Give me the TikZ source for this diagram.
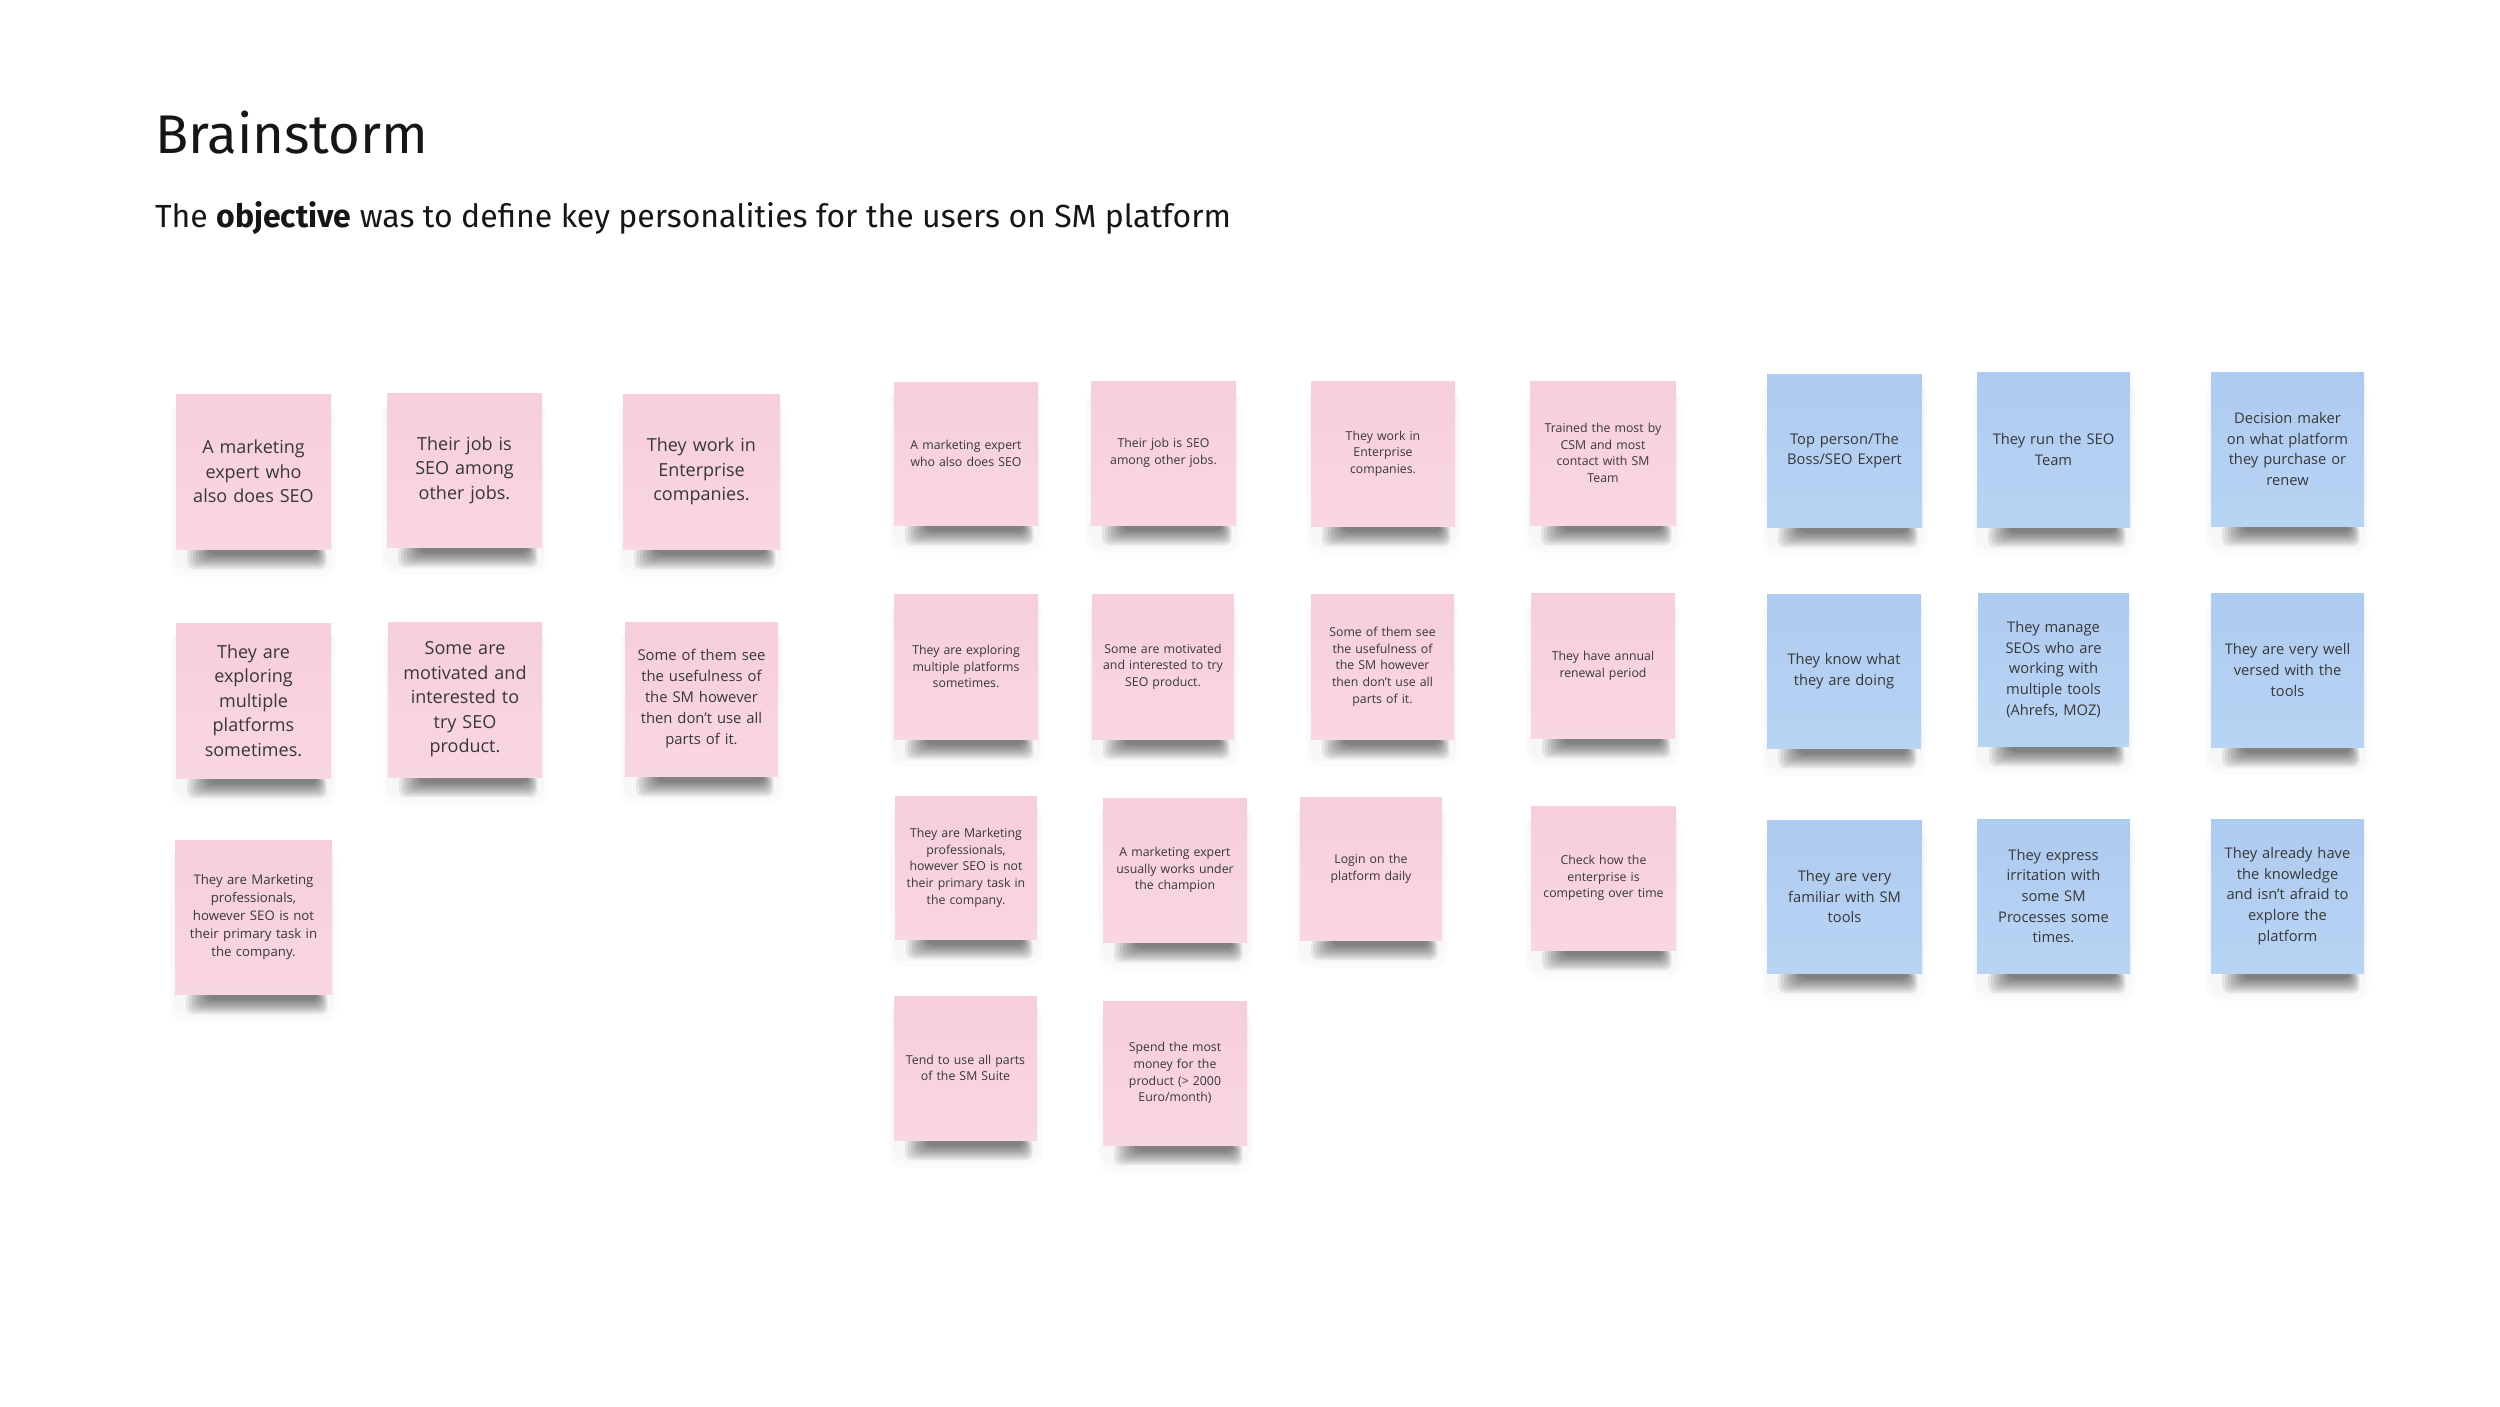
\documentclass[tikz,border=0pt]{standalone}
\usepackage{fontspec}
\setmainfont{Open Sans}
\newfontfamily\headfont{Fira Sans}
\definecolor{pinkA}{RGB}{246,206,221}
\definecolor{pinkB}{RGB}{249,214,227}
\definecolor{blueA}{RGB}{174,203,240}
\definecolor{blueB}{RGB}{184,212,244}
\definecolor{notetext}{RGB}{55,55,55}
\definecolor{titlecol}{RGB}{22,22,22}
\tikzset{
  notebase/.style={align=center, inner ysep=0pt, inner xsep=5pt, text=notetext},
  pinknote/.style={notebase, top color=pinkA, bottom color=pinkB},
  bluenote/.style={notebase, top color=blueA, bottom color=blueB},
  bigtext/.style={font=\fontsize{18}{24.5}\selectfont},
  midtext/.style={font=\fontsize{14.8}{21}\selectfont},
  smalltext/.style={font=\fontsize{13.2}{18}\selectfont},
  tinytext/.style={font=\fontsize{12.3}{16.7}\selectfont},
  bluetext/.style={font=\fontsize{14.7}{20.6}\selectfont},
  shadowlayer/.style={fill=black, opacity=0.075, rounded corners=7pt},
  halolayer/.style={fill=black, opacity=0.014, rounded corners=14pt}
}
\newcommand\stickynote[7]{%
  \fill[halolayer] ({#2-5},{#3+6}) rectangle ({#4+5},{#5+26});
  \fill[halolayer] ({#2-2},{#3+3}) rectangle ({#4+2},{#5+20});
  \foreach \k in {1,...,8}{%
    \fill[shadowlayer] ({#2+8+3*\k},{#5-4}) rectangle ({#4-3-1.4*\k},{#5+20-2*\k});
  }%
  \pgfmathsetmacro\nw{#4-#2}\pgfmathsetmacro\nh{#5-#3}\pgfmathsetmacro\tw{#4-#2-10}%
  \node[#6, minimum width=\nw pt, minimum height=\nh pt, text width=\tw pt] (#1) at ({(#2+#4)/2},{(#3+#5)/2-2}) {#7};
}
\begin{document}
\begin{tikzpicture}[x=1pt,y=-1pt]
\useasboundingbox[fill=white] (0,0) rectangle (2500,1406);
\node[anchor=base west, inner sep=0pt, text=titlecol, font=\headfont\fontsize{54.5}{60}\selectfont] (title) at (155,153) {Brainstorm};
\node[anchor=base west, inner sep=0pt, text=titlecol, font=\headfont\fontsize{32}{36}\selectfont] (subtitle) at (155,227) {The \textbf{objective} was to define key personalities for the users on SM platform};
% group A
\stickynote{a1}{176}{396}{331}{551}{pinknote,bigtext}{A marketing\\expert who\\also does SEO}
\stickynote{a2}{387}{395}{542}{549}{pinknote,bigtext}{Their job is\\SEO among\\other jobs.}
\stickynote{a3}{623}{396}{780}{551}{pinknote,bigtext}{They work in\\Enterprise\\companies.}
\stickynote{a4}{176}{625}{331}{780}{pinknote,bigtext}{They are\\exploring\\multiple\\platforms\\sometimes.}
\stickynote{a5}{388}{624}{542}{779}{pinknote,bigtext}{Some are\\motivated and\\interested to\\try SEO\\product.}
\stickynote{a6}{625}{624}{778}{778}{pinknote,midtext}{Some of them see\\the usefulness of\\the SM however\\then don't use all\\parts of it.}
\stickynote{a7}{175}{842}{332}{996}{pinknote,smalltext}{They are Marketing\\professionals,\\however SEO is not\\their primary task in\\the company.}
% group B
\stickynote{b1}{894}{384}{1038}{527}{pinknote,tinytext}{A marketing expert\\who also does SEO}
\stickynote{b2}{1091}{383}{1236}{527}{pinknote,tinytext}{Their job is SEO\\among other jobs.}
\stickynote{b3}{1311}{383}{1455}{528}{pinknote,tinytext}{They work in\\Enterprise\\companies.}
\stickynote{b4}{1530}{383}{1676}{527}{pinknote,tinytext}{Trained the most by\\CSM and most\\contact with SM\\Team}
\stickynote{b5}{894}{596}{1038}{741}{pinknote,tinytext}{They are exploring\\multiple platforms\\sometimes.}
\stickynote{b6}{1092}{596}{1234}{741}{pinknote,tinytext}{Some are motivated\\and interested to try\\SEO product.}
\stickynote{b7}{1311}{596}{1454}{741}{pinknote,tinytext}{Some of them see\\the usefulness of\\the SM however\\then don't use all\\parts of it.}
\stickynote{b8}{1531}{595}{1675}{740}{pinknote,tinytext}{They have annual\\renewal period}
\stickynote{b9}{895}{798}{1037}{941}{pinknote,tinytext}{They are Marketing\\professionals,\\however SEO is not\\their primary task in\\the company.}
\stickynote{b10}{1103}{800}{1247}{944}{pinknote,tinytext}{A marketing expert\\usually works under\\the champion}
\stickynote{b11}{1300}{799}{1442}{942}{pinknote,tinytext}{Login on the\\platform daily}
\stickynote{b12}{1531}{808}{1676}{952}{pinknote,tinytext}{Check how the\\enterprise is\\competing over time}
\stickynote{b13}{894}{998}{1037}{1142}{pinknote,tinytext}{Tend to use all parts\\of the SM Suite}
\stickynote{b14}{1103}{1003}{1247}{1147}{pinknote,tinytext}{Spend the most\\money for the\\product (> 2000\\Euro/month)}
% group C
\stickynote{c1}{1767}{376}{1922}{529}{bluenote,bluetext}{Top person/The\\Boss/SEO Expert}
\stickynote{c2}{1977}{374}{2130}{529}{bluenote,bluetext}{They run the SEO\\Team}
\stickynote{c3}{2211}{374}{2364}{528}{bluenote,bluetext}{Decision maker\\on what platform\\they purchase or\\renew}
\stickynote{c4}{1767}{596}{1921}{750}{bluenote,bluetext}{They know what\\they are doing}
\stickynote{c5}{1978}{595}{2129}{748}{bluenote,bluetext}{They manage\\SEOs who are\\working with\\multiple tools\\(Ahrefs, MOZ)}
\stickynote{c6}{2211}{595}{2364}{749}{bluenote,bluetext}{They are very well\\versed with the\\tools}
\stickynote{c7}{1767}{822}{1922}{975}{bluenote,bluetext}{They are very\\familiar with SM\\tools}
\stickynote{c8}{1977}{821}{2130}{975}{bluenote,bluetext}{They express\\irritation with\\some SM\\Processes some\\times.}
\stickynote{c9}{2211}{821}{2364}{975}{bluenote,bluetext}{They already have\\the knowledge\\and isn't afraid to\\explore the\\platform}
\end{tikzpicture}
\end{document}
